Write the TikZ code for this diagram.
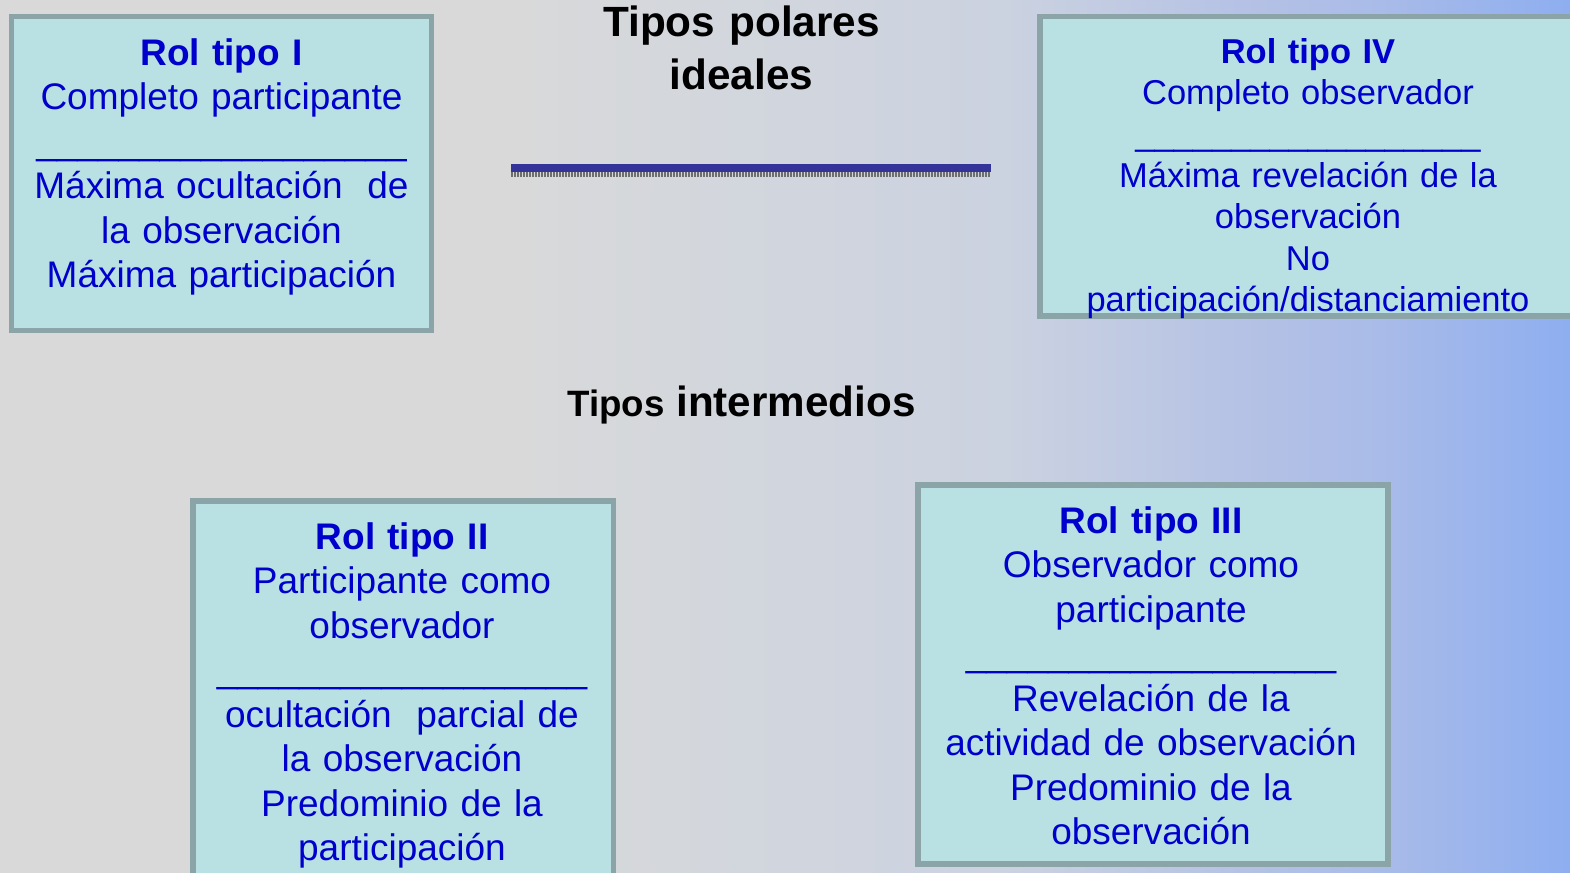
\documentclass[tikz,border=0pt]{standalone}
\usepackage{fontspec}
\setmainfont{Liberation Sans}
\definecolor{bgA}{HTML}{D9D9D9}
\definecolor{bgB}{HTML}{D6D8DB}
\definecolor{bgC}{HTML}{CBD2E0}
\definecolor{bgD}{HTML}{B4C1E5}
\definecolor{bgE}{HTML}{A9BBE8}
\definecolor{bgF}{HTML}{8EAEF0}
\definecolor{boxline}{HTML}{8AA4A7}
\definecolor{boxfill}{HTML}{B9E0E3}
\definecolor{roltxt}{HTML}{0000CC}
\definecolor{lineblue}{HTML}{333399}
\definecolor{shadowgray}{HTML}{6E6E6E}
\pgfdeclarehorizontalshading{bgshade}{100bp}{color(0bp)=(bgA); color(25bp)=(bgA); color(41.5bp)=(bgA); color(44bp)=(bgB); color(57bp)=(bgC); color(65bp)=(bgD); color(69bp)=(bgE); color(75bp)=(bgF); color(100bp)=(bgF)}
\newcommand{\unders}{\_\_\_\_\_\_\_\_\_\_\_\_\_\_\_\_\_\_}
\begin{document}
\begin{tikzpicture}[x=0.5pt,y=-0.5pt,
  rolbox/.style={draw=boxline, fill=boxfill, line width=2.75pt, inner sep=0pt},
  roltext/.style={text=roltxt, align=center, text width=300pt, anchor=base, inner sep=0pt,
    font=\fontsize{18.5pt}{22.25pt}\selectfont},
  roltextsmall/.style={roltext, font=\fontsize{17.25pt}{20.7pt}\selectfont},
  title/.style={text=black, align=center, anchor=base, inner sep=0pt}
]
\useasboundingbox (0,0) rectangle (1570,873);
\shade[shading=bgshade] (0,0) rectangle (1570,873);

% boxes
\node[rolbox, minimum width=210pt, minimum height=157pt] (b1) at (221.5,173.5) {};
\node[rolbox, minimum width=275pt, minimum height=149.75pt] (b4) at (1315,166.25) {};
\node[rolbox, minimum width=210.25pt, minimum height=199.5pt] (b2) at (403.25,700.5) {};
\node[rolbox, minimum width=235pt, minimum height=189.5pt] (b3) at (1153,674.5) {};

% box texts
\node[roltext] (t1) at (221.5,65) {\textbf{Rol tipo I}\\Completo participante\\\unders\\M\'axima ocultaci\'on\ \ de\\la observaci\'on\\M\'axima participaci\'on};
\node[roltextsmall] (t4) at (1308,63) {\textbf{Rol tipo IV}\\Completo observador\\\unders\\M\'axima revelaci\'on de la\\observaci\'on\\No\\participaci\'on/distanciamiento};
\node[roltext] (t2) at (402,549) {\textbf{Rol tipo II}\\Participante como\\observador\\\unders\\ocultaci\'on\ \ parcial de\\la observaci\'on\\Predominio de la\\participaci\'on};
\node[roltext] (t3) at (1151,533) {\textbf{Rol tipo III}\\Observador como\\participante\\\unders\\Revelaci\'on de la\\actividad de observaci\'on\\Predominio de la\\observaci\'on};

% titles
\node[title, text width=300pt, font=\bfseries\fontsize{21.15pt}{26.5pt}\selectfont] (tp) at (741.5,36) {Tipos polares\\ideales};
\node[title, font=\bfseries\fontsize{21.1pt}{25pt}\selectfont] (ti) at (741.5,416) {{\fontsize{18.35pt}{22pt}\selectfont Tipos} intermedios};

% separator line
\coordinate (la) at (511,168);
\coordinate (lb) at (991,168);
\draw[shadowgray, line width=2.5pt, dash pattern=on 0.75pt off 0.75pt] ([yshift=-3.25pt]la) -- ([yshift=-3.25pt]lb);
\draw[lineblue, line width=4pt] (la) -- (lb);
\end{tikzpicture}
\end{document}
